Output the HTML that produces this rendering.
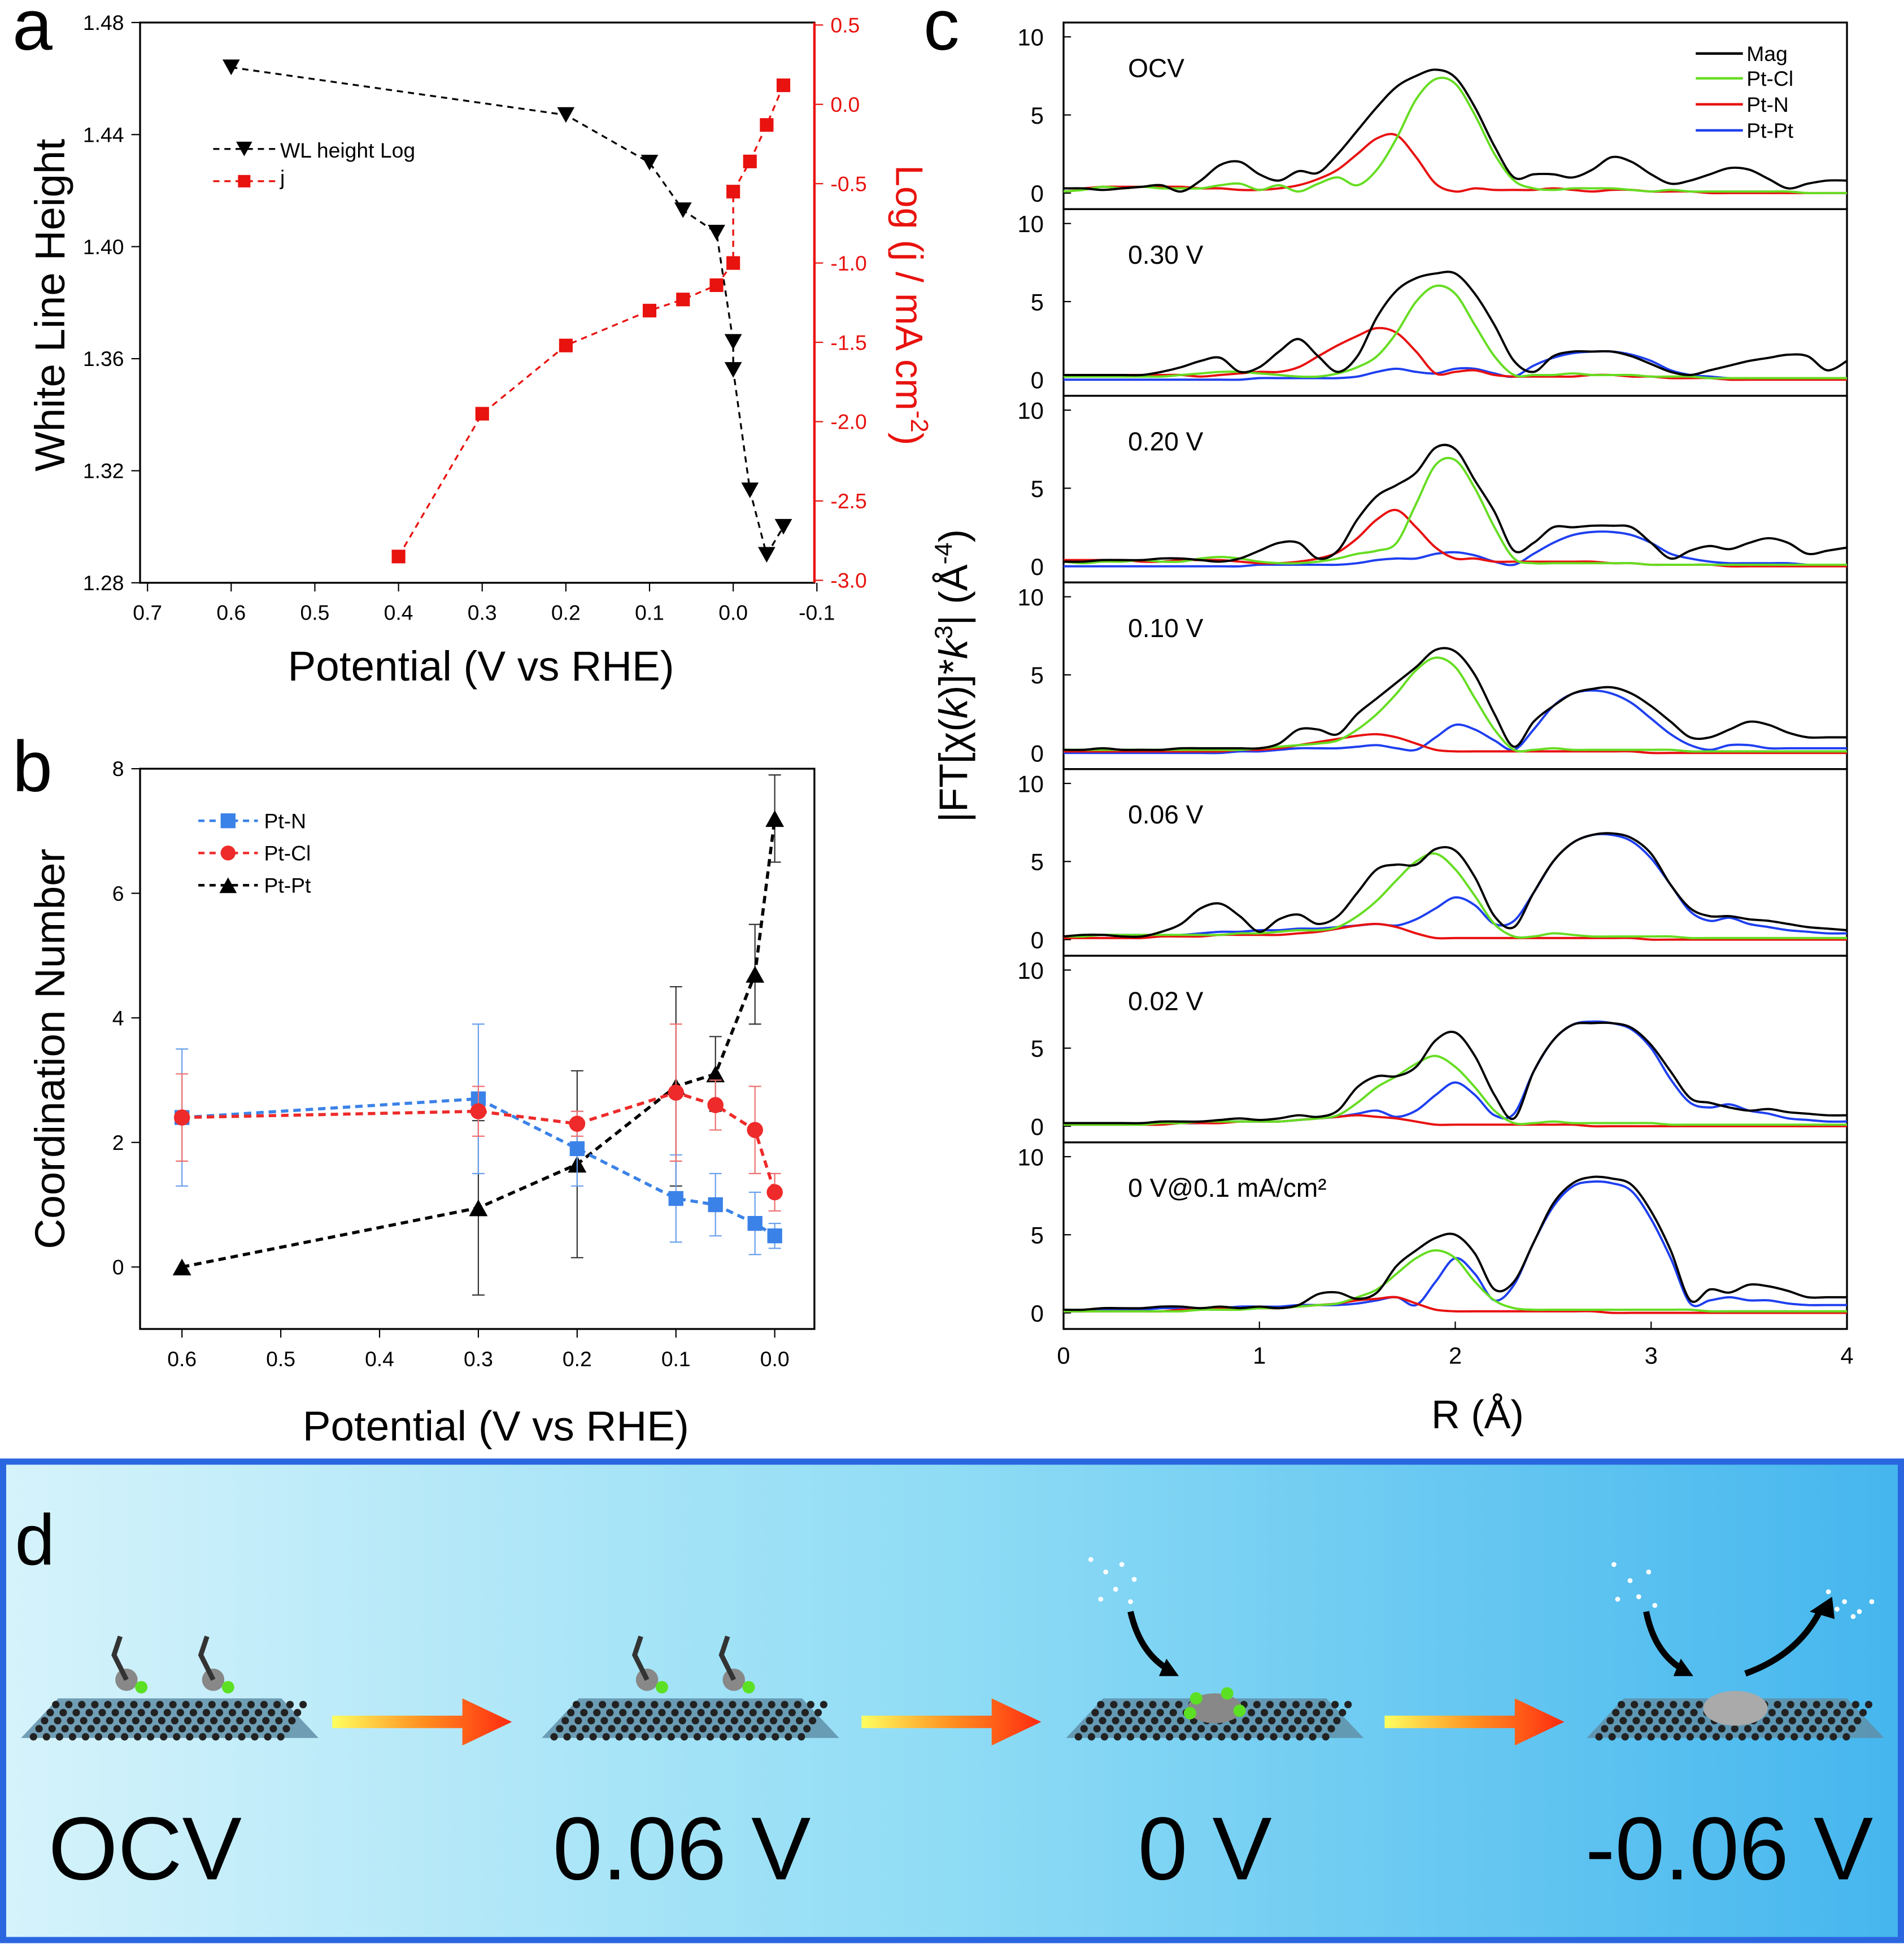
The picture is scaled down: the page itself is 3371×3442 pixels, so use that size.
<!DOCTYPE html>
<html><head><meta charset="utf-8">
<style>
html,body{margin:0;padding:0;background:#fff;}
svg{display:block;font-family:"Liberation Sans",Arial,sans-serif;}
</style></head>
<body>
<svg id="fig" xmlns="http://www.w3.org/2000/svg" width="3371" height="3442" viewBox="0 0 1536 1568">
<defs>
<linearGradient id="bg" x1="0" x2="1" y1="0" y2="0"><stop offset="0" stop-color="#d6f3fb"/><stop offset="0.5" stop-color="#8fdcf5"/><stop offset="1" stop-color="#45b6ee"/></linearGradient>
<linearGradient id="arr" x1="0" x2="1"><stop offset="0" stop-color="#ffff60"/><stop offset="0.5" stop-color="#ff9020"/><stop offset="1" stop-color="#ff2a10"/></linearGradient>
</defs>
<g id="root"></g>
</svg>
<script>
// ---------- Panel a data ----------
const wlPot=[0.6,0.2,0.1,0.06,0.02,0,0,-0.02,-0.04,-0.06];
const wlVal=[1.464,1.447,1.430,1.413,1.405,1.366,1.356,1.313,1.290,1.300];
const jPot=[0.4,0.3,0.2,0.1,0.06,0.02,0,0,-0.02,-0.04,-0.06];
const jVal=[-2.85,-1.95,-1.52,-1.30,-1.23,-1.14,-1.0,-0.55,-0.36,-0.13,0.12];
const aXTicks=[0.7,0.6,0.5,0.4,0.3,0.2,0.1,0.0,-0.1];
const aXLabels=["0.7","0.6","0.5","0.4","0.3","0.2","0.1","0.0","-0.1"];
const aYTicks=[1.28,1.32,1.36,1.40,1.44,1.48];
const aYLabels=["1.28","1.32","1.36","1.40","1.44","1.48"];
const aRTicks=[0.5,0,-0.5,-1.0,-1.5,-2.0,-2.5,-3.0];
const aRLabels=["0.5","0.0","-0.5","-1.0","-1.5","-2.0","-2.5","-3.0"];
// ---------- Panel b data ----------
const bPot=[0.6,0.3,0.2,0.1,0.06,0.02,0];
const ptN=[2.4,2.7,1.9,1.1,1.0,0.7,0.5];
const ptNerr=[1.1,1.2,0.6,0.7,0.5,0.5,0.2];
const ptCl=[2.4,2.5,2.3,2.8,2.6,2.2,1.2];
const ptClerr=[0.7,0.4,0.2,1.1,0.4,0.7,0.3];
const ptPt=[0,0.95,1.65,2.9,3.1,4.7,7.2];
const ptPterr=[0,1.4,1.5,1.6,0.6,0.8,0.7];
const bXTicks=[0.6,0.5,0.4,0.3,0.2,0.1,0.0];
const bXLabels=["0.6","0.5","0.4","0.3","0.2","0.1","0.0"];
const bYTicks=[0,2,4,6,8];
const bYLabels=["0","2","4","6","8"];
// ---------- Panel c data (R = 0..4 step 0.1) ----------
const cLabels=["OCV","0.30 V","0.20 V","0.10 V","0.06 V","0.02 V","0 V@0.1 mA/cm²"];
const magOCV=[0.3,0.3,0.2,0.3,0.4,0.5,0.1,0.8,1.8,2.0,1.2,0.8,1.4,1.3,2.5,4.0,5.5,6.8,7.5,7.9,7.4,5.5,3.0,1.0,1.2,1.2,1.0,1.5,2.3,2.0,1.2,0.6,0.8,1.2,1.6,1.5,0.9,0.3,0.6,0.8,0.8];
const clOCV=[0.1,0.2,0.4,0.3,0.4,0.3,0.3,0.3,0.5,0.6,0.2,0.5,0.1,0.6,1.0,0.5,1.5,3.5,6,7.3,7.0,5,2.5,0.8,0.3,0.2,0.3,0.3,0.3,0.2,0.1,0.2,0.1,0.1,0.1,0.1,0.1,0.1,0,0,0];
const nOCV=[0.3,0.3,0.4,0.4,0.4,0.4,0.4,0.3,0.3,0.2,0.2,0.3,0.5,0.9,1.5,2.5,3.5,3.7,2.3,0.6,0.1,0.3,0.2,0.2,0.2,0.3,0.2,0.1,0.2,0.2,0.1,0.1,0.1,0,0,0,0,0,0,0,0];
const ptOCV=null;
const mag030=[0.3,0.3,0.3,0.3,0.3,0.5,0.8,1.2,1.4,0.5,0.8,1.8,2.6,1.5,0.5,1.5,4,5.7,6.5,6.8,6.8,5.5,3.5,1.2,0.5,1.5,1.8,1.8,1.8,1.5,1.0,0.5,0.3,0.6,0.9,1.2,1.4,1.6,1.5,0.6,1.2];
const cl030=[0.2,0.2,0.2,0.2,0.2,0.2,0.3,0.4,0.5,0.5,0.4,0.3,0.2,0.2,0.4,0.8,1.5,3,5,6,5.5,3.5,1.5,0.3,0.3,0.3,0.4,0.3,0.3,0.3,0.2,0.2,0.2,0.1,0.1,0.1,0.1,0.1,0.1,0.1,0.1];
const n030=[0.3,0.3,0.3,0.3,0.3,0.3,0.3,0.2,0.3,0.4,0.5,0.5,0.8,1.5,2.2,2.8,3.3,3.0,1.8,0.4,0.5,0.6,0.3,0.2,0.2,0.2,0.2,0.3,0.3,0.2,0.2,0.1,0.1,0.1,0,0,0,0,0,0,0];
const pt030=[0,0,0,0,0,0,0,0,0,0,0.1,0.1,0.1,0.1,0.1,0.2,0.5,0.7,0.5,0.4,0.7,0.7,0.4,0.2,0.9,1.4,1.7,1.8,1.8,1.6,1.2,0.6,0.3,0.2,0.1,0.1,0.1,0.1,0.1,0.1,0.1];
const mag020=[0.3,0.3,0.4,0.4,0.4,0.5,0.5,0.4,0.3,0.5,1.0,1.5,1.5,0.5,1.0,3,4.5,5.2,6,7.6,7.5,5.5,3.5,1.0,1.5,2.5,2.5,2.6,2.6,2.5,1.5,0.5,1.0,1.3,1.1,1.5,1.8,1.5,0.8,1.0,1.2];
const cl020=[0.3,0.2,0.3,0.3,0.4,0.3,0.3,0.5,0.6,0.5,0.3,0.2,0.2,0.3,0.5,0.8,1.0,1.5,4,6.5,6.8,5,2.5,0.5,0.2,0.2,0.2,0.2,0.2,0.2,0.1,0.1,0.1,0.1,0.1,0.1,0.1,0.1,0.1,0.1,0.1];
const n020=[0.4,0.4,0.4,0.4,0.3,0.3,0.4,0.4,0.4,0.3,0.2,0.2,0.3,0.5,0.9,1.8,3.0,3.6,2.5,1.2,0.5,0.5,0.3,0.3,0.3,0.3,0.3,0.3,0.2,0.2,0.1,0.1,0.1,0.1,0,0,0,0,0,0,0];
const pt020=[0,0,0,0,0,0,0,0,0,0,0.1,0.1,0.1,0.1,0.1,0.2,0.4,0.5,0.5,0.8,0.9,0.7,0.3,0.1,0.8,1.5,2.0,2.2,2.2,2.0,1.5,0.8,0.5,0.3,0.2,0.2,0.2,0.2,0.1,0.1,0.1];
const mag010=[0.2,0.2,0.3,0.2,0.2,0.2,0.3,0.3,0.3,0.3,0.3,0.6,1.5,1.5,1.2,2.5,3.5,4.5,5.5,6.6,6.5,5.0,2.5,0.4,2.0,3.0,3.8,4.1,4.2,3.8,3.0,2.0,1.0,1.0,1.5,2.0,1.8,1.3,1.0,1.0,1.0];
const cl010=[0.2,0.2,0.2,0.2,0.2,0.2,0.2,0.2,0.2,0.2,0.3,0.4,0.5,0.6,0.8,1.5,2.5,3.8,5.3,6.1,5.5,3.5,1.5,0.2,0.2,0.3,0.2,0.2,0.2,0.2,0.2,0.2,0.1,0.1,0.1,0.1,0.1,0.1,0.1,0.1,0.1];
const n010=[0.1,0.1,0.1,0.1,0.1,0.1,0.1,0.1,0.1,0.2,0.2,0.3,0.5,0.7,0.9,1.1,1.2,1.0,0.6,0.2,0.1,0.1,0.1,0.1,0.1,0.1,0.1,0.1,0.1,0.1,0,0,0,0,0,0,0,0,0,0,0];
const pt010=[0,0,0,0,0,0,0,0,0,0.1,0.1,0.2,0.3,0.3,0.3,0.4,0.5,0.3,0.2,1.0,1.8,1.5,0.8,0.2,1.5,3.0,3.8,4.0,3.8,3.2,2.2,1.2,0.5,0.2,0.5,0.5,0.3,0.3,0.3,0.3,0.3];
const mag006=[0.2,0.3,0.3,0.2,0.2,0.5,1.0,2.0,2.3,1.5,0.5,1.3,1.6,1.0,1.5,3,4.5,4.8,4.8,5.8,5.7,4.0,1.5,0.8,3,5,6.2,6.7,6.8,6.5,5.5,3.5,2.0,1.5,1.5,1.3,1.2,1.0,0.8,0.7,0.6];
const cl006=[0.2,0.2,0.3,0.3,0.3,0.3,0.3,0.3,0.3,0.4,0.4,0.5,0.6,0.6,0.8,1.5,2.5,3.8,5.0,5.5,4.5,2.8,1.0,0.2,0.2,0.4,0.3,0.2,0.2,0.2,0.2,0.2,0.1,0.1,0.1,0.1,0.1,0.1,0.1,0.1,0.1];
const n006=[0.1,0.1,0.1,0.1,0.1,0.2,0.2,0.2,0.3,0.3,0.3,0.3,0.4,0.5,0.7,0.9,1.0,0.8,0.4,0.1,0.1,0.1,0.1,0.1,0.1,0.1,0.1,0.1,0.1,0.1,0,0,0,0,0,0,0,0,0,0,0];
const pt006=[0.2,0.2,0.3,0.3,0.3,0.3,0.3,0.4,0.5,0.5,0.6,0.6,0.7,0.7,0.8,0.9,1.0,0.9,1.3,2.0,2.7,2.2,1.0,1.2,3.0,5.0,6.2,6.7,6.7,6.3,5.2,3.5,1.8,1.2,1.4,1.0,0.8,0.6,0.5,0.4,0.4];
const mag002=[0.2,0.2,0.2,0.2,0.2,0.3,0.3,0.3,0.4,0.5,0.4,0.5,0.7,0.6,1.0,2.5,3.2,3.2,3.8,5.5,6.0,4.5,2.0,0.5,3.5,5.5,6.5,6.6,6.6,6.3,5.2,3.5,1.8,1.5,1.2,1.0,1.1,0.9,0.8,0.7,0.7];
const cl002=[0.1,0.1,0.1,0.1,0.1,0.2,0.2,0.3,0.3,0.3,0.3,0.3,0.4,0.5,0.7,1.5,2.5,3.2,4.0,4.5,3.8,2.5,1.0,0.2,0.2,0.3,0.2,0.2,0.2,0.2,0.2,0.1,0.1,0.1,0.1,0.1,0.1,0.1,0.1,0.1,0.1];
const n002=[0.1,0.1,0.1,0.1,0.1,0.1,0.2,0.2,0.2,0.3,0.3,0.3,0.4,0.5,0.6,0.7,0.6,0.5,0.3,0.1,0.1,0.1,0.1,0.1,0.1,0.1,0.1,0,0,0,0,0,0,0,0,0,0,0,0,0,0];
const pt002=[0.1,0.1,0.1,0.1,0.1,0.2,0.2,0.2,0.3,0.3,0.3,0.3,0.4,0.5,0.6,0.8,1.0,0.6,1.0,2.0,2.8,2.0,0.7,0.8,3.5,5.5,6.5,6.7,6.6,6.2,5.0,3.0,1.5,1.2,1.4,1.0,0.8,0.5,0.4,0.3,0.3];
const mag000=[0.2,0.2,0.3,0.3,0.3,0.4,0.4,0.3,0.4,0.3,0.4,0.3,0.5,1.2,1.3,0.9,1.3,3.0,4.0,4.8,5.0,3.8,1.5,2.0,4.5,7.0,8.3,8.7,8.6,8.2,6.5,4.0,0.8,1.5,1.3,1.8,1.7,1.4,1.0,1.0,1.0];
const cl000=[0.1,0.1,0.1,0.1,0.1,0.1,0.1,0.2,0.2,0.2,0.3,0.3,0.4,0.5,0.6,1.0,1.5,2.5,3.5,4.0,3.5,2.0,0.8,0.3,0.2,0.2,0.2,0.2,0.2,0.2,0.2,0.2,0.2,0.1,0.1,0.1,0.1,0.1,0.1,0.1,0.1];
const n000=[0.1,0.1,0.1,0.1,0.1,0.1,0.2,0.2,0.3,0.3,0.3,0.3,0.4,0.5,0.6,0.8,0.9,1.0,0.6,0.2,0.1,0.1,0.1,0.1,0.1,0.1,0.1,0.1,0,0,0,0,0,0,0,0,0,0,0,0,0];
const pt000=[0.1,0.1,0.2,0.2,0.2,0.3,0.3,0.3,0.3,0.4,0.4,0.4,0.5,0.5,0.5,0.6,0.8,1.0,0.5,2.0,3.5,2.5,0.8,1.8,4.5,6.8,8.1,8.4,8.3,7.8,6.0,3.5,0.6,0.8,1.0,0.8,0.8,0.6,0.5,0.5,0.5];
const cXTicks=[0,1,2,3,4];
const cYTicks=[0,5,10];
const dLabels=["OCV","0.06 V","0 V","-0.06 V"];

const NS="http://www.w3.org/2000/svg";
const root=document.getElementById('root');
function el(tag,attrs,parent,text){const e=document.createElementNS(NS,tag);for(const k in attrs)e.setAttribute(k,attrs[k]);if(text!==undefined)e.textContent=text;(parent||root).appendChild(e);return e;}
function grp(name){const g=el('g',{});return g;}

// ===== Panel a =====
const ax=v=>119+(0.7-v)*675;
const ay=v=>470-(v-1.28)*2260;
const ar=v=>468-(v+3.0)*128;
const pa=grp('panel-a');
el('text',{x:10,y:40,'font-size':58},pa,'a');
el('rect',{x:113,y:18,width:544,height:452,fill:'none',stroke:'#000','stroke-width':1.5},pa);
el('line',{x1:657,y1:18,x2:657,y2:470,stroke:'#e8120e','stroke-width':2},pa);
aXTicks.forEach((t,i)=>{el('line',{x1:ax(t),y1:470,x2:ax(t),y2:477,stroke:'#000'},pa);
 const tx=el('text',{x:ax(t),y:500,'font-size':17,'text-anchor':'middle'},pa,aXLabels[i]);});
aYTicks.forEach((t,i)=>{el('line',{x1:106,y1:ay(t),x2:113,y2:ay(t),stroke:'#000'},pa);
 const tx=el('text',{x:100,y:ay(t)+6,'font-size':17,'text-anchor':'end'},pa,aYLabels[i]);});
aRTicks.forEach((t,i)=>{el('line',{x1:657,y1:ar(t),x2:664,y2:ar(t),stroke:'#e8120e'},pa);
 const tx=el('text',{x:670,y:ar(t)+6,'font-size':17,fill:'#e8120e'},pa,aRLabels[i]);});
el('path',{d:'M'+wlPot.map((p,i)=>ax(p)+','+ay(wlVal[i])).join('L'),fill:'none',stroke:'#000','stroke-width':1.5,'stroke-dasharray':'5,4'},pa);
el('path',{d:'M'+jPot.map((p,i)=>ax(p)+','+ar(jVal[i])).join('L'),fill:'none',stroke:'#e8120e','stroke-width':1.5,'stroke-dasharray':'5,4'},pa);
function tri(x,y,down,s,fill,parent){const h=s*0.9;return el('path',{d:down?`M${x-s/2},${y-h/2}L${x+s/2},${y-h/2}L${x},${y+h/2}Z`:`M${x-s/2},${y+h/2}L${x+s/2},${y+h/2}L${x},${y-h/2}Z`,fill:fill},parent);}
wlPot.forEach((p,i)=>{const m=tri(ax(p),ay(wlVal[i]),true,14,'#000',pa);});
jPot.forEach((p,i)=>{const m=el('rect',{x:ax(p)-5.5,y:ar(jVal[i])-5.5,width:11,height:11,fill:'#e8120e'},pa);});
el('line',{x1:172,y1:120,x2:222,y2:120,stroke:'#000','stroke-dasharray':'5,4','stroke-width':1.5},pa);tri(197,120,true,13,'#000',pa);
el('text',{x:226,y:127,'font-size':17},pa,'WL height  Log');
el('line',{x1:172,y1:146,x2:222,y2:146,stroke:'#e8120e','stroke-dasharray':'5,4','stroke-width':1.5},pa);el('rect',{x:192,y:141,width:10,height:10,fill:'#e8120e'},pa);
el('text',{x:226,y:149,'font-size':17},pa,'j');
el('text',{x:388,y:549,'font-size':34,'text-anchor':'middle'},pa,'Potential (V vs RHE)');
el('text',{x:0,y:0,'font-size':34,'text-anchor':'middle',transform:'translate(52,246) rotate(-90)'},pa,'White Line Height');
const rt=el('text',{x:0,y:0,'font-size':31,'text-anchor':'middle',fill:'#e8120e',transform:'translate(723,246) rotate(90)'},pa);
el('tspan',{},rt,'Log (j / mA cm');el('tspan',{'font-size':20,dy:-12},rt,'-2');el('tspan',{dy:12},rt,')');

// ===== Panel b =====
const bx=v=>625-v*797;
const by=v=>1022-v*50.25;
const pb=grp('panel-b');
el('text',{x:10,y:638,'font-size':58},pb,'b');
el('rect',{x:113,y:620,width:544,height:452,fill:'none',stroke:'#000','stroke-width':1.5},pb);
bXTicks.forEach((t,i)=>{el('line',{x1:bx(t),y1:1072,x2:bx(t),y2:1079,stroke:'#000'},pb);
 const tx=el('text',{x:bx(t),y:1102,'font-size':17,'text-anchor':'middle'},pb,bXLabels[i]);});
bYTicks.forEach((t,i)=>{el('line',{x1:106,y1:by(t),x2:113,y2:by(t),stroke:'#000'},pb);
 const tx=el('text',{x:100,y:by(t)+6,'font-size':17,'text-anchor':'end'},pb,bYLabels[i]);});
function series(vals,errs,col,errCol,marker,name){
 const g=grp(name);pb.appendChild(g);
 bPot.forEach((p,i)=>{if(errs[i]>0){const x=bx(p);el('line',{x1:x,y1:by(vals[i]-errs[i]),x2:x,y2:by(vals[i]+errs[i]),stroke:errCol,'stroke-width':1},g);
  el('line',{x1:x-5,y1:by(vals[i]-errs[i]),x2:x+5,y2:by(vals[i]-errs[i]),stroke:errCol},g);el('line',{x1:x-5,y1:by(vals[i]+errs[i]),x2:x+5,y2:by(vals[i]+errs[i]),stroke:errCol},g);}});
 el('path',{d:'M'+bPot.map((p,i)=>bx(p)+','+by(vals[i])).join('L'),fill:'none',stroke:col,'stroke-width':2.5,'stroke-dasharray':'6,4'},g);
 bPot.forEach((p,i)=>{let m;const x=bx(p),y=by(vals[i]);
  if(marker==='sq')m=el('rect',{x:x-6,y:y-6,width:12,height:12,fill:col},g);
  else if(marker==='ci')m=el('circle',{cx:x,cy:y,r:6.5,fill:col},g);
  else m=tri(x,y,false,15,col,g);
  });
}
series(ptPt,ptPterr,'#000','#333','tr','pt-pt-series');
series(ptN,ptNerr,'#3b82e8','#6aa0ee','sq','pt-n-series');
series(ptCl,ptClerr,'#ee2a2a','#ee7070','ci','pt-cl-series');
[['Pt-N','#3b82e8','sq',662],['Pt-Cl','#ee2a2a','ci',688],['Pt-Pt','#000','tr',714]].forEach(l=>{
 el('line',{x1:160,y1:l[3],x2:208,y2:l[3],stroke:l[1],'stroke-width':2,'stroke-dasharray':'5,4'},pb);
 if(l[2]==='sq')el('rect',{x:178,y:l[3]-6,width:12,height:12,fill:l[1]},pb);else if(l[2]==='ci')el('circle',{cx:184,cy:l[3],r:6,fill:l[1]},pb);else tri(184,l[3],false,14,l[1],pb);
 el('text',{x:213,y:l[3]+6,'font-size':17},pb,l[0]);});
el('text',{x:400,y:1162,'font-size':34,'text-anchor':'middle'},pb,'Potential (V vs RHE)');
el('text',{x:0,y:0,'font-size':34,'text-anchor':'middle',transform:'translate(52,846) rotate(-90)'},pb,'Coordination Number');

// ===== Panel c =====
const pc=grp('panel-c');
el('text',{x:745,y:40,'font-size':58},pc,'c');
const cx=r=>858+r*158;
const subH=150.57;
const sets=[[magOCV,clOCV,nOCV,ptOCV],[mag030,cl030,n030,pt030],[mag020,cl020,n020,pt020],[mag010,cl010,n010,pt010],[mag006,cl006,n006,pt006],[mag002,cl002,n002,pt002],[mag000,cl000,n000,pt000]];
const cols=['#000','#66dd22','#e81010','#1e3ff0'];
function smooth(pts){let d='M'+pts[0][0]+','+pts[0][1];for(let i=0;i<pts.length-1;i++){const p0=pts[i-1]||pts[i],p1=pts[i],p2=pts[i+1],p3=pts[i+2]||p2;
 d+=`C${p1[0]+(p2[0]-p0[0])/6},${p1[1]+(p2[1]-p0[1])/6} ${p2[0]-(p3[0]-p1[0])/6},${p2[1]-(p3[1]-p1[1])/6} ${p2[0]},${p2[1]}`;}return d;}
sets.forEach((s,k)=>{
 const top=18+subH*k,bot=top+subH;const cy=v=>bot-13-v*12.6;
 const g=grp('subpanel-'+k);pc.appendChild(g);
 el('rect',{x:858,y:top,width:632,height:subH,fill:'none',stroke:'#000','stroke-width':1.5},g);
 cYTicks.forEach(t=>{el('line',{x1:858,y1:cy(t),x2:864,y2:cy(t),stroke:'#000'},g);
  const tx=el('text',{x:842,y:cy(t)+7,'font-size':19,'text-anchor':'end'},g,String(t));});
 [3,2,1,0].forEach(j=>{const arr=s[j];if(!arr)return;
  const p=el('path',{d:smooth(arr.map((v,i)=>[cx(i*0.1),cy(v)])),fill:'none',stroke:cols[j],'stroke-width':1.8},g);
  });
 el('text',{x:910,y:top+44,'font-size':21},g,cLabels[k]);
});
cXTicks.forEach(t=>{el('line',{x1:cx(t),y1:1072,x2:cx(t),y2:1066,stroke:'#000'},pc);
 const tx=el('text',{x:cx(t),y:1100,'font-size':19,'text-anchor':'middle'},pc,String(t));});
[['Mag',43],['Pt-Cl',63],['Pt-N',84],['Pt-Pt',105]].forEach((l,i)=>{el('line',{x1:1368,y1:l[1],x2:1406,y2:l[1],stroke:cols[i],'stroke-width':2},pc);
 el('text',{x:1409,y:l[1]+6,'font-size':17},pc,l[0]);});
el('text',{x:1192,y:1152,'font-size':32,'text-anchor':'middle'},pc,'R (Å)');
const cyt=el('text',{x:0,y:0,'font-size':32,'text-anchor':'middle',transform:'translate(780,545) rotate(-90)'},pc);
el('tspan',{},cyt,'|FT[χ(');el('tspan',{'font-style':'italic'},cyt,'k');el('tspan',{},cyt,')]*');el('tspan',{'font-style':'italic'},cyt,'k');el('tspan',{'font-size':20,dy:-12},cyt,'3');el('tspan',{dy:12},cyt,'| (Å');el('tspan',{'font-size':20,dy:-12},cyt,'-4');el('tspan',{dy:12},cyt,')');

// ===== Panel d =====
const pd=grp('panel-d');
el('rect',{x:2.5,y:1179,width:1531,height:386,fill:'url(#bg)',stroke:'#2a66e0','stroke-width':5},pd);
el('text',{x:12,y:1262,'font-size':58},pd,'d');
const sx=[12,432,855,1275];
sx.forEach((x0,k)=>{const g=grp('surface-'+k);pd.appendChild(g);
 el('path',{d:`M${x0+30},${x0?1372:1372}L${x0+248},${1372}L${x0+250},${1400}L${x0+10},${1430}Z`.replace(/,1372L/,',1372L'),fill:'none'},g);
 el('path',{d:`M${x0+35},1370L${x0+215},1370L${x0+245},1402L${x0+5},1402Z`,fill:'#5f8fa8',opacity:0.85},g);
 for(let r=0;r<5;r++)for(let c=0;c<20;c++){el('circle',{cx:x0+30+c*10.5-r*4.5+3,cy:1375+r*6.5,r:3,fill:'#222'},g);}
 if(k<2){[[90,1355],[160,1355]].forEach(m=>{el('circle',{cx:x0+m[0],cy:m[1],r:9,fill:'#888'},g);el('circle',{cx:x0+m[0]+12,cy:m[1]+6,r:5,fill:'#5ce024'},g);el('path',{d:`M${x0+m[0]},${m[1]}l-10,-20l5,-15`,stroke:'#333','stroke-width':4,fill:'none'},g);});}
 if(k===2){el('ellipse',{cx:x0+125,cy:1378,rx:22,ry:12,fill:'#888'},g);[[-15,-8],[10,-12],[20,2],[-20,4]].forEach(o=>el('circle',{cx:x0+125+o[0],cy:1378+o[1],r:5,fill:'#5ce024'},g));}
 if(k===3){el('ellipse',{cx:x0+125,cy:1378,rx:26,ry:14,fill:'#aaa'},g);}
 const t=el('text',{x:[117,550,972,1395][k],y:1516,'font-size':72,'text-anchor':'middle'},pd,dLabels[k]);
});
[268,695,1117].forEach(x=>{const a=el('path',{d:`M${x},1384L${x+105},1384L${x+105},1370L${x+145},1389L${x+105},1408L${x+105},1394L${x},1394Z`,fill:'url(#arr)'},pd);});
// curved arrows & bubbles
el('path',{d:'M912,1300Q920,1335 945,1348',stroke:'#000','stroke-width':5,fill:'none'},pd);el('path',{d:'M935,1352l16,0l-10,-14z',fill:'#000'},pd);
el('path',{d:'M1328,1300Q1335,1335 1360,1348',stroke:'#000','stroke-width':5,fill:'none'},pd);el('path',{d:'M1350,1352l16,0l-10,-14z',fill:'#000'},pd);
el('path',{d:'M1408,1350Q1450,1335 1468,1300',stroke:'#000','stroke-width':5,fill:'none'},pd);el('path',{d:'M1460,1300l18,-12l2,18z',fill:'#000'},pd);
[[880,1258],[892,1268],[905,1262],[915,1274],[900,1282],[888,1290],[912,1292]].forEach(p=>el('circle',{cx:p[0],cy:p[1],r:2,fill:'#fff'},pd));
[[1302,1262],[1315,1275],[1330,1268],[1322,1288],[1305,1290],[1335,1295]].forEach(p=>el('circle',{cx:p[0],cy:p[1],r:2,fill:'#fff'},pd));
[[1475,1284],[1488,1292],[1500,1300],[1510,1292],[1495,1304],[1482,1298]].forEach(p=>el('circle',{cx:p[0],cy:p[1],r:2,fill:'#fff'},pd));
</script>
</body></html>
